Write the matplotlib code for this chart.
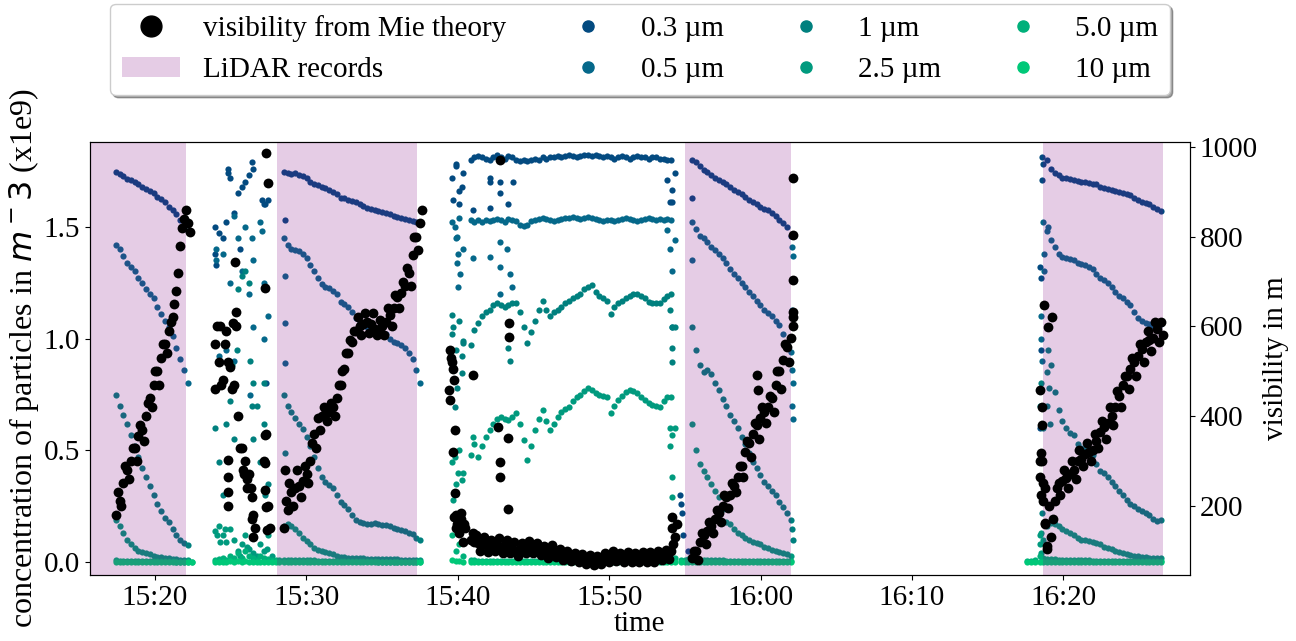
import numpy as np
import pandas as pd
import matplotlib
matplotlib.use("Agg")
import matplotlib.pyplot as plt
import matplotlib.dates as mdates
from matplotlib.lines import Line2D
from matplotlib.patches import Patch

nan = float("nan")

# time base: readings are minutes after 15:00, one reading every 15 s per segment
T0 = pd.Timestamp("2023-01-01 15:00")
STEP = 0.25
SEG_START = [17.41, 23.97, 28.51, 39.60, 55.49, 78.43]
LIDAR = [(15.5, 22.05), (28.06, 37.30), (55.0, 62.0), (78.65, 86.58)]
XLIM = (15.71, 88.36)

SIZES = ["0.3 µm", "0.5 µm", "1 µm", "2.5 µm", "5.0 µm", "10 µm"]
COLORS = ["#034a80", "#05688a", "#00807e", "#009a7e", "#00b07a", "#00c878"]

# ---- concentration (x1e9 m^-3), one list per segment ----
c03 = [
    [1.745, 1.735, 1.725, 1.715, 1.71, 1.70, 1.69, 1.68, 1.67, 1.66, 1.65, 1.635, 1.625, 1.61, 1.59, 1.575, 1.555, 1.53, 1.51, 1.48],
    [1.50, 1.47, 1.45, 1.52, 1.72, 1.56, 1.65, 1.68, 1.70, 1.73, 1.76, nan, nan, 1.60, 1.62, nan],
    [1.745, 1.74, 1.735, 1.74, 1.73, 1.725, 1.72, 1.70, 1.69, 1.685, 1.68, 1.675, 1.665, 1.655, 1.645, 1.63, 1.63, 1.62, 1.615,
     1.61, 1.60, 1.595, 1.585, 1.58, 1.575, 1.57, 1.565, 1.56, 1.555, 1.55, 1.545, 1.54, 1.535, 1.53, 1.525, 1.52, 1.515],
    [1.72, 1.78, 1.66, 1.74, nan, 1.80, 1.81, 1.815, 1.81, 1.805, 1.80, 1.81, 1.82, 1.81, 1.805, 1.815, 1.81, 1.80, 1.795, 1.80,
     1.795, 1.80, 1.805, 1.80, 1.81, 1.805, 1.81, 1.81, 1.815, 1.81, 1.815, 1.82, 1.815, 1.81, 1.815, 1.82, 1.82, 1.815, 1.82, 1.815,
     1.81, 1.815, 1.81, 1.805, 1.81, 1.815, 1.81, 1.805, 1.81, 1.815, 1.81, 1.81, 1.805, 1.81, 1.81, 1.805, 1.805, 1.80, 1.80, 1.74],
    [1.80, 1.79, 1.77, 1.755, 1.745, 1.73, 1.72, 1.71, 1.70, 1.69, 1.68, 1.665, 1.655, 1.645, 1.635, 1.62, 1.61, 1.60, 1.59, 1.58,
     1.575, 1.56, 1.55, 1.53, 1.515, 1.50, 1.46],
    [nan, 1.78, 1.80, 1.76, 1.74, 1.73, 1.72, 1.72, 1.715, 1.71, 1.705, 1.70, 1.70, 1.695, 1.69, 1.69, 1.68, 1.675, 1.67, 1.665,
     1.66, 1.655, 1.65, 1.645, 1.64, 1.63, 1.62, 1.61, 1.605, 1.60, 1.59, 1.58, 1.57],
]
c05 = [
    [1.42, 1.40, 1.37, 1.34, 1.32, 1.30, 1.27, 1.25, 1.22, 1.20, 1.18, 1.14, 1.11, 1.08, 1.05, 1.01, 0.96, 0.91, 0.86, 0.80],
    [0.98, 0.92, 1.38, 0.95, 1.25, 0.90, 1.45, 1.30, 1.50, 1.20, 1.05, nan, 1.52, 1.25, 1.10, nan],
    [1.45, 1.42, 1.40, 1.395, 1.39, 1.38, 1.36, 1.33, 1.30, 1.27, 1.245, 1.23, 1.225, 1.215, 1.20, 1.165, 1.155, 1.14, 1.12,
     1.09, 1.075, 1.06, 1.05, 1.045, 1.04, 1.035, 1.03, 1.02, 1.00, 0.985, 0.98, 0.97, 0.96, 0.935, 0.91, 0.86, 0.80],
    [1.52, 1.45, 1.54, 1.40, nan, 1.53, 1.52, 1.53, 1.52, 1.53, 1.525, 1.53, 1.535, 1.53, 1.52, 1.535, 1.53, 1.525, 1.51, 1.505,
     1.51, 1.525, 1.53, 1.535, 1.54, 1.535, 1.53, 1.525, 1.53, 1.535, 1.54, 1.54, 1.545, 1.54, 1.535, 1.54, 1.545, 1.54, 1.535, 1.53,
     1.525, 1.53, 1.53, 1.525, 1.53, 1.535, 1.54, 1.535, 1.53, 1.525, 1.53, 1.535, 1.54, 1.535, 1.53, 1.535, 1.53, 1.535, 1.53, 1.44],
    [1.52, 1.49, 1.46, 1.45, 1.43, 1.41, 1.395, 1.38, 1.36, 1.34, 1.31, 1.29, 1.27, 1.25, 1.23, 1.21, 1.19, 1.17, 1.15, 1.13,
     1.115, 1.10, 1.08, 1.06, 1.02, 0.98, 0.94],
    [nan, 1.52, 1.48, 1.44, 1.41, 1.38, 1.365, 1.36, 1.355, 1.35, 1.34, 1.335, 1.33, 1.32, 1.31, 1.29, 1.27, 1.26, 1.25, 1.23,
     1.21, 1.19, 1.18, 1.165, 1.15, 1.12, 1.09, 1.08, 1.07, 1.065, 1.055, 1.05, 1.065],
]
c1 = [
    [0.75, 0.70, 0.66, 0.62, 0.57, 0.52, 0.47, 0.42, 0.38, 0.34, 0.30, 0.26, 0.23, 0.20, 0.18, 0.15, 0.12, 0.10, 0.085, 0.075],
    [0.60, 0.45, 0.30, 0.62, 0.72, 0.55, 1.22, 1.28, 1.30, 1.25, 0.80, 0.70, 0.45, 0.62, 0.35, nan],
    [0.75, 0.70, 0.67, 0.645, 0.62, 0.595, 0.56, 0.52, 0.47, 0.42, 0.38, 0.36, 0.345, 0.33, 0.30, 0.27, 0.255, 0.24, 0.21,
     0.19, 0.18, 0.175, 0.17, 0.172, 0.175, 0.17, 0.168, 0.165, 0.16, 0.155, 0.15, 0.145, 0.14, 0.13, 0.125, 0.11, 0.10],
    [1.02, 0.95, 1.08, 0.98, nan, 0.97, 1.04, 1.07, 1.10, 1.12, 1.13, 1.15, 1.16, 1.15, 1.14, 1.15, 1.16, 1.16, 1.12, 1.05,
     0.98, 1.03, 1.08, 1.13, 1.17, 1.13, 1.10, 1.12, 1.13, 1.14, 1.16, 1.17, 1.18, 1.19, 1.20, 1.22, 1.23, 1.24, 1.21, 1.19,
     1.18, 1.17, 1.11, 1.14, 1.16, 1.17, 1.18, 1.19, 1.20, 1.20, 1.19, 1.18, 1.165, 1.16, 1.16, 1.16, 1.175, 1.19, 1.20, 1.05],
    [1.05, 0.95, 0.88, 0.85, 0.86, 0.84, 0.80, 0.77, 0.73, 0.70, 0.66, 0.63, 0.60, 0.56, 0.53, 0.49, 0.45, 0.42, 0.39, 0.36,
     0.34, 0.32, 0.30, 0.27, 0.245, 0.22, 0.19],
    [0.70, 0.60, 0.85, 0.88, 0.76, 0.68, 0.63, 0.60, 0.58, 0.57, 0.53, 0.51, 0.505, 0.50, 0.48, 0.44, 0.41, 0.40, 0.38, 0.36,
     0.34, 0.32, 0.30, 0.28, 0.26, 0.25, 0.24, 0.23, 0.22, 0.21, 0.195, 0.185, 0.19],
]
c25 = [
    [0.19, 0.16, 0.13, 0.10, 0.08, 0.065, 0.05, 0.045, 0.04, 0.035, 0.03, 0.025, 0.022, 0.02, 0.018, 0.015, 0.013, 0.012, 0.01, 0.01],
    [0.14, 0.16, 0.12, 0.09, 0.15, 0.10, 0.05, 0.08, 0.12, 0.06, 0.04, 0.03, 0.08, 0.05, 0.12, 0.03],
    [0.16, 0.17, 0.16, 0.15, 0.13, 0.11, 0.095, 0.08, 0.065, 0.055, 0.05, 0.045, 0.04, 0.035, 0.03, 0.025, 0.022, 0.02, 0.018,
     0.018, 0.017, 0.017, 0.016, 0.016, 0.015, 0.015, 0.015, 0.014, 0.014, 0.013, 0.013, 0.012, 0.012, 0.011, 0.011, 0.01, 0.01],
    [0.45, 0.35, 0.50, 0.40, nan, 0.48, 0.53, 0.47, 0.52, 0.56, 0.59, 0.62, 0.64, 0.65, 0.64, 0.636, 0.65, 0.667, 0.62, 0.546,
     0.457, 0.52, 0.59, 0.64, 0.68, 0.63, 0.59, 0.62, 0.65, 0.67, 0.685, 0.695, 0.72, 0.74, 0.75, 0.765, 0.78, 0.77, 0.757, 0.75,
     0.745, 0.74, 0.667, 0.70, 0.725, 0.745, 0.76, 0.77, 0.765, 0.757, 0.74, 0.725, 0.71, 0.705, 0.70, 0.695, 0.72, 0.74, 0.74, 0.60],
    [0.62, 0.50, 0.44, 0.41, 0.38, 0.35, 0.32, 0.29, 0.24, 0.18, 0.17, 0.15, 0.13, 0.12, 0.11, 0.10, 0.09, 0.085, 0.08, 0.07,
     0.065, 0.055, 0.05, 0.045, 0.04, 0.035, 0.03],
    [0.12, 0.10, 0.16, 0.175, 0.17, 0.16, 0.15, 0.14, 0.13, 0.12, 0.11, 0.10, 0.098, 0.095, 0.09, 0.085, 0.08, 0.07, 0.062, 0.058,
     0.05, 0.046, 0.042, 0.038, 0.034, 0.03, 0.027, 0.024, 0.022, 0.02, 0.019, 0.018, 0.018],
]
c50 = [
    [0.008, 0.007, 0.007, 0.006, 0.006, 0.006, 0.005, 0.005, 0.005, 0.005, 0.004, 0.004, 0.004, 0.004, 0.004, 0.004, 0.003, 0.003, 0.003, 0.003],
    [0.01, 0.015, 0.02, 0.01, 0.03, 0.02, 0.04, 0.02, 0.05, 0.03, 0.02, 0.01, 0.03, 0.02, 0.015, 0.01],
    [0.012, 0.011, 0.011, 0.010, 0.010, 0.009, 0.009, 0.008, 0.008, 0.007, 0.007, 0.006, 0.006, 0.006, 0.005, 0.005, 0.005, 0.005,
     0.004, 0.004, 0.004, 0.004, 0.004, 0.004, 0.004, 0.003, 0.003, 0.003, 0.003, 0.003, 0.003, 0.003, 0.003, 0.003, 0.003, 0.003, 0.003],
    [0.12, 0.05, 0.08, 0.03, nan, 0.010, 0.008, 0.007, 0.006, 0.006, 0.005, 0.005, 0.005, 0.005, 0.005, 0.005, 0.004, 0.004, 0.004, 0.004,
     0.004, 0.004, 0.004, 0.004, 0.004, 0.004, 0.004, 0.004, 0.004, 0.004, 0.004, 0.004, 0.004, 0.004, 0.004, 0.004, 0.004, 0.004, 0.004, 0.004,
     0.004, 0.004, 0.004, 0.004, 0.004, 0.004, 0.004, 0.004, 0.004, 0.004, 0.004, 0.004, 0.004, 0.004, 0.004, 0.004, 0.005, 0.005, 0.006, 0.020],
    [0.020, 0.015, 0.012, 0.011, 0.010, 0.009, 0.009, 0.008, 0.008, 0.007, 0.007, 0.007, 0.006, 0.006, 0.006, 0.005, 0.005, 0.005, 0.005,
     0.005, 0.004, 0.004, 0.004, 0.004, 0.004, 0.004, 0.004],
    [0.030, 0.020, 0.015, 0.014, 0.013, 0.012, 0.011, 0.010, 0.010, 0.009, 0.009, 0.008, 0.008, 0.008, 0.007, 0.007, 0.007, 0.006, 0.006,
     0.006, 0.006, 0.005, 0.005, 0.005, 0.005, 0.005, 0.005, 0.004, 0.004, 0.004, 0.004, 0.004, 0.004],
]
c10 = [
    [0.002, 0.002, 0.002, 0.001, 0.001, 0.001, 0.001, 0.001, 0.001, 0.001, 0.001, 0.001, 0.001, 0.001, 0.001, 0.001, 0.001, 0.001, 0.001, 0.001],
    [0.001, 0.002, 0.003, 0.001, 0.004, 0.002, 0.005, 0.002, 0.006, 0.003, 0.002, 0.001, 0.003, 0.002, 0.002, 0.001],
    [0.002, 0.002, 0.002, 0.002, 0.001, 0.001, 0.001, 0.001, 0.001, 0.001, 0.001, 0.001, 0.001, 0.001, 0.001, 0.001, 0.001, 0.001,
     0.001, 0.001, 0.001, 0.001, 0.001, 0.001, 0.001, 0.001, 0.001, 0.001, 0.001, 0.001, 0.001, 0.001, 0.001, 0.001, 0.001, 0.001, 0.001],
    [0.010, 0.005, 0.006, 0.003, nan, 0.002, 0.001, 0.001, 0.001, 0.001, 0.001, 0.001, 0.001, 0.001, 0.001, 0.001, 0.001, 0.001, 0.001, 0.001,
     0.001, 0.001, 0.001, 0.001, 0.001, 0.001, 0.001, 0.001, 0.001, 0.001, 0.001, 0.001, 0.001, 0.001, 0.001, 0.001, 0.001, 0.001, 0.001, 0.001,
     0.001, 0.001, 0.001, 0.001, 0.001, 0.001, 0.001, 0.001, 0.001, 0.001, 0.001, 0.001, 0.001, 0.001, 0.001, 0.001, 0.001, 0.001, 0.001, 0.002],
    [0.002, 0.002, 0.001, 0.001, 0.001, 0.001, 0.001, 0.001, 0.001, 0.001, 0.001, 0.001, 0.001, 0.001, 0.001, 0.001, 0.001, 0.001, 0.001,
     0.001, 0.001, 0.001, 0.001, 0.001, 0.001, 0.001, 0.001],
    [0.003, 0.002, 0.002, 0.002, 0.001, 0.001, 0.001, 0.001, 0.001, 0.001, 0.001, 0.001, 0.001, 0.001, 0.001, 0.001, 0.001, 0.001, 0.001,
     0.001, 0.001, 0.001, 0.001, 0.001, 0.001, 0.001, 0.001, 0.001, 0.001, 0.001, 0.001, 0.001, 0.001],
]

# ---- visibility from Mie theory (m): band centre and a second reading of the band's spread ----
vis = [
    [180, 210, 250, 280, 300, 330, 355, 370, 400, 440, 470, 500, 530, 560, 590, 620, 680, 780, 840, 830],
    [560, 520, 480, 590, 510, 470, 400, 330, 300, 270, 180, nan, nan, 300, 200, nan],
    [150, 190, 230, 240, 245, 255, 270, 300, 360, 395, 400, 405, 410, 420, 440, 470, 505, 540, 565, 590,
     600, 605, 610, 605, 595, 590, 600, 610, 625, 640, 665, 675, 690, 720, 760, 800, 830],
    [520, 180, 140, 120, nan, 125, 120, 118, 115, 112, 110, 115, 112, 108, 112, 110, 105, 100, 104, 108,
     112, 110, 105, 100, 98, 96, 100, 98, 95, 92, 90, 88, 86, 85, 82, 80, 78, 76, 78, 80,
     84, 88, 92, 90, 86, 84, 86, 88, 86, 84, 86, 88, 86, 88, 90, 92, 90, 92, 100, 130],
    [85, 100, 120, 135, 145, 155, 170, 185, 200, 220, 225, 245, 265, 290, 320, 340, 360, 380, 395, 410,
     420, 440, 470, 500, 525, 555, 575],
    [300, 250, 110, 130, 210, 250, 255, 262, 270, 280, 300, 305, 315, 320, 325, 345, 365, 375, 385, 400,
     420, 445, 470, 490, 505, 520, 535, 550, 565, 570, 575, 595, 610],
]
vis_b = [
    [230, 200, 290, 260, 330, 300, 380, 345, 430, 420, 500, 470, 560, 540, 610, 650, 720, 820, 860, 810],
    [600, 470, 560, 520, 460, 600, 330, 280, 260, 240, 150, nan, nan, 360, 150, nan],
    [210, 250, 200, 280, 220, 290, 250, 340, 330, 370, 420, 390, 430, 400, 470, 500, 540, 570, 590, 620,
     580, 630, 585, 630, 580, 615, 580, 640, 600, 670, 640, 700, 730, 690, 800, 770, 860],
    [480, 160, 170, 150, nan, 140, 135, 100, 130, 98, 125, 100, 128, 95, 125, 96, 120, 88, 118, 95,
     122, 96, 118, 90, 110, 84, 112, 86, 105, 80, 100, 78, 96, 74, 92, 70, 90, 68, 88, 70,
     95, 74, 100, 78, 96, 74, 98, 76, 96, 74, 98, 76, 97, 76, 100, 80, 102, 82, 115, 160],
    [100, 80, 140, 115, 165, 140, 190, 165, 225, 195, 250, 230, 290, 265, 345, 310, 385, 350, 420, 385,
     445, 410, 500, 460, 560, 520, 600],
    [420, 160, 200, 170, 240, 225, 280, 240, 300, 260, 325, 290, 340, 300, 360, 330, 390, 350, 420, 380,
     455, 420, 490, 460, 530, 490, 560, 520, 590, 545, 610, 565, 580],
]

# ---- stray readings outside the regular rows (minute, value) ----
stray_t_03 = [23.96, 24.03, 24.82, 24.82, 26.41, 27.27, 27.33, 25.6, 27.07, 28.6, 39.7, 39.9, 40.1, 40.3, 41.0, 42.13, 42.13,
              42.13, 42.79, 42.79, 43.32, 43.65, 53.83, 54.01, 54.15, 54.15, 54.7, 54.75, 54.8, 54.9, 55.2, 55.5, 78.6, 78.6,
              78.45, 78.5, 78.5, 78.45]
stray_v_03 = [1.38, 1.33, 1.74, 1.76, 1.79, 1.60, 0.80, 1.40, 1.62, 1.53, 1.62, 1.77, 1.60, 1.68, 1.576, 1.72, 1.70,
              1.585, 1.70, 1.65, 1.60, 1.70, 1.71, 1.61, 1.665, 1.61, 0.30, 0.26, 0.22, 0.12, 0.05, 1.63, 1.81, 1.71,
              1.32, 1.27, 0.95, 0.60]
stray_t_05 = [24.0, 24.05, 25.2, 26.4, 26.5, 27.1, 27.2, 26.3, 28.6, 28.6, 28.6, 39.82, 39.95, 40.01, 39.95, 40.15, 40.01, 41.0,
              42.13, 42.79, 42.79, 43.25, 43.45, 43.58, 42.79, 53.83, 54.0, 54.15, 54.15, 55.5, 62.1, 62.12, 62.1, 62.12,
              62.1, 62.12, 62.1, 62.12, 78.5, 78.55, 78.6, 78.7, 78.75, 79.0]
stray_v_05 = [1.40, 1.35, 1.55, 1.45, 1.35, 1.48, 1.00, 0.75, 1.28, 1.07, 0.89, 1.50, 1.455, 1.38, 1.34, 1.29, 1.23, 1.36,
              1.365, 1.43, 1.32, 1.40, 1.29, 1.23, 1.20, 1.486, 1.40, 1.30, 1.05, 1.35, 1.41, 1.37, 1.13, 1.05,
              0.86, 0.80, 0.70, 0.64, 1.10, 1.00, 0.90, 1.38, 1.30, 1.50]
stray_t_1 = [25.1, 25.4, 26.3, 26.4, 26.45, 27.2, 27.3, 27.25, 28.6, 39.62, 39.68, 40.34, 40.28, 40.28, 39.95, 39.82, 43.32,
             43.45, 54.01, 54.15, 54.15, 54.15, 62.1, 62.12, 78.5, 78.5, 78.55, 78.6, 78.9, 79.0, 79.05, 79.1]
stray_v_1 = [0.88, 0.95, 0.90, 0.70, 0.55, 0.80, 0.58, 0.30, 0.49, 1.105, 1.05, 0.99, 0.92, 0.845, 0.78, 0.695, 0.96,
             0.90, 1.128, 1.05, 0.96, 0.895, 0.15, 0.10, 0.80, 0.45, 0.30, 0.22, 0.70, 0.95, 0.78, 0.62]
stray_t_25 = [24.1, 24.3, 24.6, 25.6, 26.1, 27.4, 39.68, 39.82, 40.01, 40.28, 41.0, 54.01, 54.01, 54.15, 54.15, 54.15,
              78.45, 78.5, 78.55, 78.6]
stray_v_25 = [0.12, 0.09, 0.15, 0.03, 0.07, 0.06, 0.28, 0.47, 0.40, 0.367, 0.56, 0.60, 0.52, 0.57, 0.38, 0.29,
              0.08, 0.04, 0.13, 0.02]
stray_t_50 = [22.47, 27.97, 28.22, 54.73, 54.98, 55.23, 77.6, 77.85, 78.1]
stray_v_50 = [0.003, 0.010, 0.010, 0.010, 0.010, 0.015, 0.005, 0.005, 0.010]
stray_t_10 = [22.47, 27.97, 28.22, 54.73, 54.98, 55.23, 77.6, 77.85, 78.1]
stray_v_10 = [0.001, 0.002, 0.002, 0.001, 0.001, 0.001, 0.001, 0.001, 0.001]
stray_t_vis = [23.95, 24.3, 25.3, 25.35, 25.15, 24.85, 24.85, 24.85, 24.85, 27.35, 27.45, 27.3, 27.25, 27.28, 27.3, 27.33,
               27.38, 26.4, 26.42, 26.45, 25.9, 26.1, 28.6, 39.48, 39.55, 39.68, 39.42, 39.48, 39.82, 39.68, 39.82, 39.75,
               39.88, 40.01, 40.21, 40.41, 41.0, 42.79, 43.38, 43.38, 42.66, 43.32, 42.79, 42.79, 43.32, 54.15, 54.15,
               59.76, 59.83, 62.14, 62.14, 62.14, 62.12, 62.12, 78.45, 78.57, 78.52, 78.45, 78.52, 78.67, 78.78, 78.9,
               78.74, 78.96, 79.27, 78.57, 78.78]
stray_v_vis = [460, 600, 744, 632, 608, 303, 265, 230, 200, 987, 920, 686, 359, 296, 236, 198,
               147, 220, 170, 130, 270, 240, 281, 548, 530, 505, 459, 437, 370, 321, 229, 176,
               150, 160, 185, 160, 492, 971, 608, 577, 376, 352, 298, 265, 192, 176, 150,
               492, 459, 931, 804, 704, 632, 622, 459, 381, 318, 265, 225, 210, 163, 105,
               647, 599, 620, 300, 240]


def to_time(minutes):
    return (T0 + pd.to_timedelta(np.asarray(minutes, dtype=float), unit="min")).to_numpy()


def expand(segments, stray_t=(), stray_v=(), offset=0.0):
    t, v = [], []
    for start, vals in zip(SEG_START, segments):
        t.extend(start + offset + STEP * np.arange(len(vals)))
        v.extend(vals)
    t.extend(stray_t)
    v.extend(stray_v)
    return to_time(t), np.array(v, dtype=float)


plt.rcParams["font.family"] = ["Liberation Serif", "DejaVu Serif"]
plt.rcParams["font.size"] = 21

fig = plt.figure(figsize=(12.96, 6.41), dpi=100)
fig.subplots_adjust(left=90 / 1296, right=1190 / 1296, bottom=1 - 575 / 641, top=1 - 142 / 641)
ax = fig.add_subplot(111)
ax2 = ax.twinx()

conc = [(c03, stray_t_03, stray_v_03), (c05, stray_t_05, stray_v_05), (c1, stray_t_1, stray_v_1),
        (c25, stray_t_25, stray_v_25), (c50, stray_t_50, stray_v_50), (c10, stray_t_10, stray_v_10)]
for (segs, st, sv), col in zip(conc, COLORS):
    t, v = expand(segs, st, sv)
    ax.scatter(t, v, s=20, color=col, linewidths=0)

for a, b in LIDAR:
    ax2.axvspan(to_time([a])[0], to_time([b])[0], color="purple", alpha=0.2, lw=0, zorder=1)

tv, vv = expand(vis, stray_t_vis, stray_v_vis)
tb, vb = expand(vis_b, offset=STEP / 2)
ax2.scatter(np.concatenate([tv, tb]), np.concatenate([vv, vb]), s=50, color="black", linewidths=0, zorder=3)

ax.set_xlim(to_time(XLIM))
ax.set_ylim(-0.057, 1.879)
ax2.set_ylim(46, 1011)
ax.set_yticks([0.0, 0.5, 1.0, 1.5])
ax2.set_yticks([200, 400, 600, 800, 1000])
ax.xaxis.set_major_locator(mdates.MinuteLocator(byminute=range(0, 60, 10)))
ax.xaxis.set_major_formatter(mdates.DateFormatter("%H:%M"))

ax.set_xlabel("time", labelpad=0)
ax.set_ylabel("concentration of particles in $m^-3$ (x1e9)", fontsize=23, labelpad=2)
ax2.set_ylabel("visibility in m")

handles = [Line2D([], [], marker="o", ls="", color="black", markersize=15, label="visibility from Mie theory"),
           Patch(facecolor="purple", alpha=0.2, label="LiDAR records")]
for lab, col in zip(SIZES, COLORS):
    handles.append(Line2D([], [], marker="o", ls="", color=col, markersize=8, label=lab))
ax2.legend(handles=handles, loc="lower center", bbox_to_anchor=(0.5, 1.075), ncol=4, shadow=True,
           columnspacing=1.8)

fig.savefig("out.png", dpi=100)
